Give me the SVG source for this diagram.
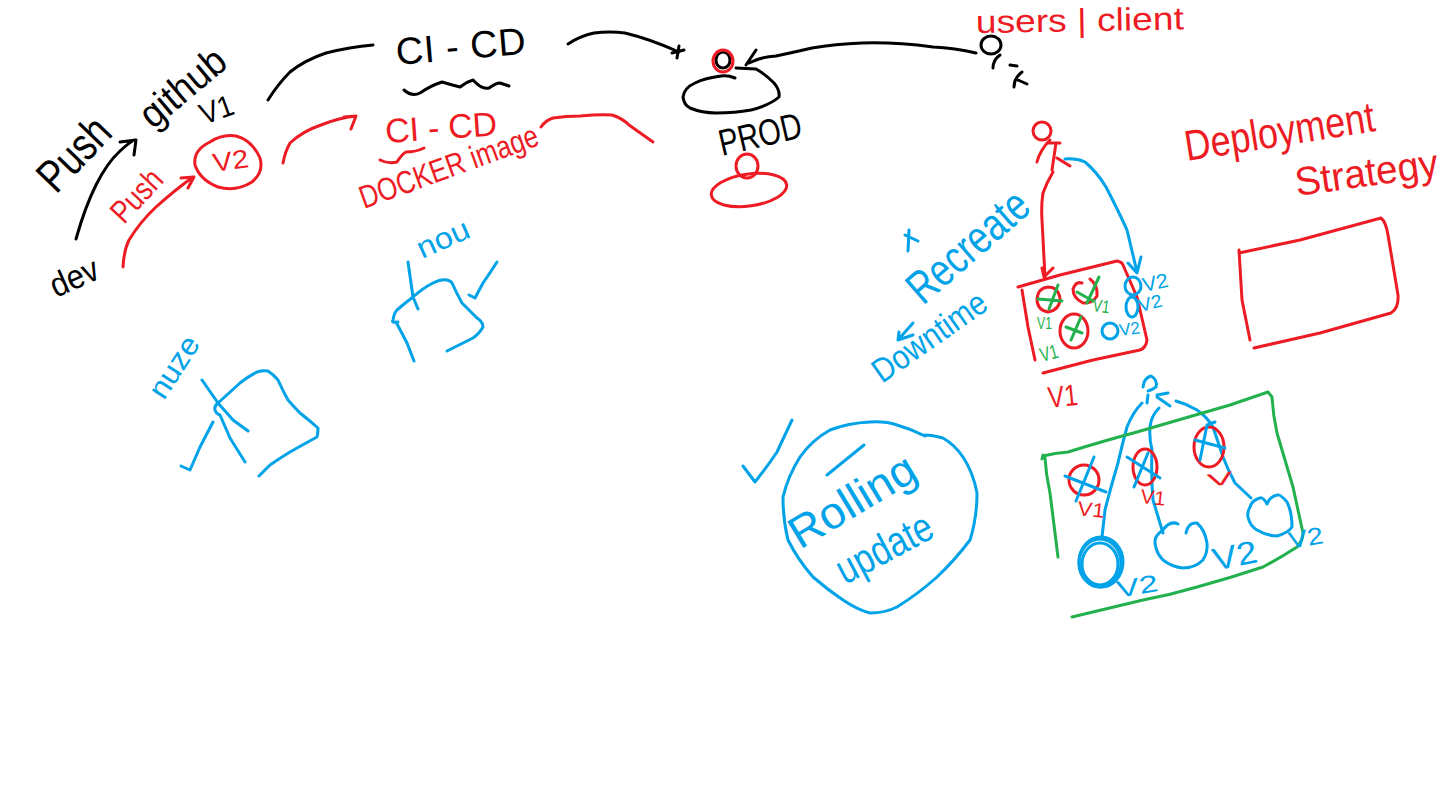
<svg xmlns="http://www.w3.org/2000/svg" width="1454" height="789" viewBox="0 0 1454 789">
<style>
path,ellipse{fill:none;stroke-width:3;stroke-linecap:round;stroke-linejoin:round}
text{font-family:"Liberation Sans",Arial,sans-serif;font-weight:400}
.k{stroke:#000}.r{stroke:#ed1c24}.b{stroke:#00a2e8}.g{stroke:#22b14c}
.tk{fill:#000}.tr{fill:#ed1c24}.tb{fill:#00a2e8}.tg{fill:#22b14c}
</style>
<rect width="1454" height="789" fill="#fff"/>
<g id="connectors">
<path class="k" d="M76 239Q85 207 96 185Q107 163 120 151Q130 142 134 140M120 142L136 140L134 155"/>
<path class="r" d="M123 267Q124 250 129 240Q140 222 156 207Q175 190 193 177M181 178L194 177L188 188"/>
<path class="k" d="M268 100Q278 84 290 72Q305 60 326 53Q350 47 373 45"/>
<path class="k" d="M568 44Q580 36 594 33Q610 31 625 33Q650 39 679 52M672 53L684 50M679 46L677 58"/>
<path class="r" d="M283 163Q285 152 290 143Q303 131 321 125Q338 118 356 116M344 117L356 116L351 129"/>
<path class="r" d="M541 127Q546 120 553 118Q566 116 580 116Q600 114 612 115Q622 118 629 125L653 142"/>
<path class="k" d="M976 53Q955 48 933 47Q895 42 862 43Q835 44 812 48Q795 52 776 56Q760 57 749 63M756 50L746 65"/>
<path class="r" d="M1053 172Q1047 182 1043 193Q1041 206 1042 220L1045 277M1042 268L1044 277L1053 268"/>
<path class="b" d="M1065 159Q1076 158 1085 162Q1097 172 1106 187Q1118 210 1127 230L1137 272M1128 263L1137 273L1141 257"/>
<path class="b" d="M1142 403Q1133 412 1127 427Q1122 445 1118 463Q1110 490 1105 510L1102 537"/>
<path class="b" d="M1159 408Q1151 416 1150 427Q1149 438 1152 450Q1151 478 1153 500L1163 533M1157 395L1168 393M1157 397L1170 406"/>
<path class="b" d="M1176 401Q1187 404 1197 410Q1207 417 1213 427Q1218 442 1223 457Q1228 470 1235 483L1251 498"/>
</g>
<g id="dev"><text class="tk" font-size="34" textLength="50" lengthAdjust="spacingAndGlyphs" transform="translate(56 298) rotate(-24)">dev</text></g>
<g id="push-black"><text class="tk" font-size="46" textLength="84" lengthAdjust="spacingAndGlyphs" transform="translate(56 195) rotate(-46)">Push</text></g>
<g id="github"><text class="tk" font-size="40" textLength="100" lengthAdjust="spacingAndGlyphs" transform="translate(153 130) rotate(-40)">github</text></g>
<g id="v1-top"><text class="tk" font-size="30" textLength="34" lengthAdjust="spacingAndGlyphs" transform="translate(204 125) rotate(-20)">V1</text></g>
<g id="push-red"><text class="tr" font-size="32" textLength="60" lengthAdjust="spacingAndGlyphs" transform="translate(124 225) rotate(-47)">Push</text></g>
<g id="v2-node"><path class="r" d="M210 142Q222 134 236 136Q252 140 260 158Q264 172 252 182Q236 192 218 187Q200 180 195 165Q193 150 210 142"/><text class="tr" font-size="26" textLength="36" lengthAdjust="spacingAndGlyphs" transform="translate(214 172) rotate(-8)">V2</text></g>
<g id="cicd-black"><text class="tk" font-size="38" textLength="130" transform="translate(397 65) rotate(-5)" xml:space="preserve">CI - CD</text><path class="k" d="M404 90Q412 97 420 93Q430 86 442 82Q452 85 460 87Q466 82 473 80Q482 90 489 88Q496 83 500 83L509 86"/></g>
<g id="cicd-red"><text class="tr" font-size="34" textLength="112" transform="translate(386 143) rotate(-4)">CI - CD</text><path class="r" d="M380 160Q388 164 397 162Q402 154 406 152Q416 152 424 148"/></g>
<g id="docker-image"><text class="tr" font-size="32" textLength="188" lengthAdjust="spacingAndGlyphs" transform="translate(364 209) rotate(-20)">DOCKER image</text></g>
<g id="prod-server"><ellipse class="k" cx="723" cy="60" rx="7" ry="8"/><ellipse class="r" cx="723" cy="61" rx="10" ry="11"/><path class="k" d="M735 78Q728 75 721 76Q705 78 695 83Q684 88 683 97Q684 105 690 108Q702 113 716 113Q735 113 751 110Q770 105 779 97Q780 90 774 83Q765 74 756 69L736 68"/></g>
<g id="prod-label"><text class="tk" font-size="37" textLength="84" lengthAdjust="spacingAndGlyphs" transform="translate(722 156) rotate(-13)">PROD</text></g>
<g id="prod-red"><ellipse class="r" cx="747" cy="166" rx="11" ry="12"/><ellipse class="r" cx="749" cy="190" rx="38" ry="16" transform="rotate(-8 749 190)"/></g>
<g id="users-figure"><ellipse class="k" cx="991" cy="45" rx="10" ry="9"/><path class="k" d="M1000 55Q993 60 993 68M1010 65L1017 66M1022 72Q1014 78 1014 87M1018 80L1027 84"/></g>
<g id="users-label"><text class="tr" font-size="32" textLength="208" lengthAdjust="spacingAndGlyphs" transform="translate(976 33) rotate(-1)">users | client</text></g>
<g id="deployment-strategy"><text class="tr" font-size="43" textLength="192" lengthAdjust="spacingAndGlyphs" transform="translate(1187 161) rotate(-9)">Deployment</text><text class="tr" font-size="40" textLength="144" lengthAdjust="spacingAndGlyphs" transform="translate(1297 196) rotate(-8)">Strategy</text></g>
<g id="empty-box"><path class="r" d="M1239 250L1242 300L1250 340M1239 253L1300 240L1381 218Q1386 222 1388 235L1398 295Q1399 308 1391 313L1320 333L1254 348"/></g>
<g id="recreate-figure"><ellipse class="r" cx="1042" cy="131" rx="9" ry="9"/><path class="r" d="M1050 140Q1040 150 1037 162M1047 143L1060 143M1056 143L1052 170M1057 158L1070 166"/></g>
<g id="recreate"><text class="tb" font-size="46" textLength="146" lengthAdjust="spacingAndGlyphs" transform="translate(923 306) rotate(-41)">Recreate</text><path class="b" d="M905 235L918 241M909 230L908 251"/></g>
<g id="downtime"><text class="tb" font-size="34" textLength="132" lengthAdjust="spacingAndGlyphs" transform="translate(882 384) rotate(-35)">Downtime</text><path class="b" d="M913 323L898 340M899 332L898 340L913 335"/></g>
<g id="recreate-box"><path class="r" d="M1035 360L1028 327L1022 290M1018 287L1060 275L1117 261Q1122 262 1123 265L1137 297L1147 340Q1146 348 1140 350L1093 360L1043 373"/></g>
<g id="pod-a"><path class="r" d="M1048 287Q1058 287 1060 298Q1060 310 1048 312Q1037 310 1037 299Q1038 288 1048 287"/><path class="g" d="M1058 285L1049 309M1038 299L1062 301"/><text class="tg" font-size="17" textLength="15" lengthAdjust="spacingAndGlyphs" transform="translate(1037 329)">V1</text></g>
<g id="pod-b"><path class="r" d="M1090 279Q1098 285 1097 296Q1092 304 1083 303Q1073 298 1073 289Q1076 281 1082 283"/><path class="g" d="M1099 277L1087 303M1077 292L1093 301"/><text class="tg" font-size="18" textLength="17" lengthAdjust="spacingAndGlyphs" transform="translate(1092 311) rotate(8)">V1</text></g>
<g id="pod-c"><ellipse class="r" cx="1074" cy="331" rx="14" ry="17"/><path class="g" d="M1081 317L1071 340M1066 327L1082 333"/><text class="tg" font-size="20" textLength="18" lengthAdjust="spacingAndGlyphs" transform="translate(1042 362) rotate(-15)">V1</text></g>
<g id="pod-v2-a"><ellipse class="b" cx="1133" cy="286" rx="8" ry="9"/><text class="tb" font-size="20" textLength="26" lengthAdjust="spacingAndGlyphs" transform="translate(1144 292) rotate(-12)">V2</text></g>
<g id="pod-v2-b"><ellipse class="b" cx="1132" cy="307" rx="6" ry="10"/><text class="tb" font-size="18" textLength="24" lengthAdjust="spacingAndGlyphs" transform="translate(1140 312) rotate(-14)">V2</text></g>
<g id="pod-v2-c"><ellipse class="b" cx="1110" cy="331" rx="8" ry="8"/><text class="tb" font-size="17" textLength="21" lengthAdjust="spacingAndGlyphs" transform="translate(1120 336) rotate(-8)">V2</text></g>
<g id="v1-label"><text class="tr" font-size="30" textLength="30" lengthAdjust="spacingAndGlyphs" transform="translate(1049 408) rotate(-6)">V1</text></g>
<g id="rolling-figure"><path class="b" d="M1143 387Q1144 378 1151 376Q1158 380 1156 387Q1152 390 1148 391M1148 395L1147 403"/></g>
<g id="rolling-box"><path class="g" d="M1043 455L1042 459M1043 456Q1055 453 1068 452Q1100 442 1137 432Q1185 418 1230 405L1268 392L1272 397Q1273 415 1277 433Q1285 460 1293 487L1303 533Q1302 542 1297 547Q1280 558 1263 567Q1230 578 1197 587Q1170 595 1143 600L1072 617M1045 458Q1046 475 1050 493L1058 557"/></g>
<g id="old-1"><ellipse class="r" cx="1084" cy="480" rx="15" ry="15"/><path class="b" d="M1065 476L1106 492M1094 457L1076 501"/><text class="tr" font-size="20" textLength="27" lengthAdjust="spacingAndGlyphs" transform="translate(1077 515) rotate(6)">V1</text></g>
<g id="old-2"><ellipse class="r" cx="1145" cy="467" rx="12" ry="18"/><path class="b" d="M1127 457L1160 478M1148 453L1134 487"/><text class="tr" font-size="20" textLength="25" lengthAdjust="spacingAndGlyphs" transform="translate(1140 503) rotate(6)">V1</text></g>
<g id="old-3"><ellipse class="r" cx="1209" cy="447" rx="15" ry="20"/><path class="b" d="M1195 440L1225 448M1215 422L1207 425L1200 460"/><text class="tr" font-size="18" textLength="26" lengthAdjust="spacingAndGlyphs" transform="translate(1208 487) rotate(-8)">V</text></g>
<g id="new-1"><ellipse class="b" cx="1100" cy="563" rx="21" ry="24" stroke-width="4"/><ellipse class="b" cx="1100" cy="564" rx="18" ry="21" stroke-width="3"/><ellipse class="b" cx="1101" cy="562" rx="22" ry="25" stroke-width="3"/><text class="tb" font-size="24" textLength="42" lengthAdjust="spacingAndGlyphs" transform="translate(1118 598) rotate(-10)">V2</text></g>
<g id="new-2"><path class="b" d="M1178 524Q1170 520 1163 530Q1154 536 1155 543Q1156 553 1163 560Q1172 567 1183 568Q1195 568 1203 560Q1208 552 1207 543Q1205 530 1197 523Q1188 522 1186 533"/><text class="tb" font-size="32" textLength="45" lengthAdjust="spacingAndGlyphs" transform="translate(1215 571) rotate(-12)">V2</text></g>
<g id="new-3"><path class="b" d="M1267 504Q1263 497 1260 498Q1252 500 1250 507Q1247 512 1248 517Q1250 526 1257 530Q1267 536 1277 536Q1288 533 1292 527Q1292 512 1287 502Q1280 494 1278 495Q1270 496 1267 504"/><text class="tb" font-size="24" textLength="35" lengthAdjust="spacingAndGlyphs" transform="translate(1290 549) rotate(-10)">V2</text></g>
<g id="rolling-update"><path class="b" d="M925 436Q911 429 897 425Q885 421 870 422Q848 423 830 430Q812 440 800 457Q788 476 783 497Q783 520 788 540Q798 560 813 577Q828 590 843 600Q858 610 870 613Q885 613 897 607Q918 594 937 577Q955 560 970 540Q977 518 977 493Q973 472 963 457Q955 445 943 438Q932 435 925 435"/><path class="b" d="M827 475L864 445M743 466L755 482Q767 467 777 452L792 420"/><text class="tb" font-size="45" textLength="140" lengthAdjust="spacingAndGlyphs" transform="translate(800 550) rotate(-31)">Rolling</text><text class="tb" font-size="42" textLength="104" lengthAdjust="spacingAndGlyphs" transform="translate(845 585) rotate(-28)">update</text></g>
<g id="nou"><text class="tb" font-size="30" textLength="55" lengthAdjust="spacingAndGlyphs" transform="translate(422 259) rotate(-24)">nou</text><path class="b" d="M408 262L413 297L418 309M398 322Q391 323 393 320Q394 313 397 310Q405 303 413 297Q423 288 433 283Q441 279 447 280Q451 281 452 283Q457 294 462 303Q470 311 477 318Q483 322 483 327Q479 334 473 338L447 351M396 322L407 343L414 361M497 262Q490 273 483 283L475 298L469 295"/></g>
<g id="nuze"><text class="tb" font-size="30" textLength="68" lengthAdjust="spacingAndGlyphs" transform="translate(164 401) rotate(-57)">nuze</text><path class="b" d="M202 380L218 403Q226 412 233 420L248 431M218 403Q229 393 240 383Q249 376 257 372Q263 370 268 371Q274 375 278 380Q283 391 288 400Q294 407 300 413Q309 420 318 428Q318 433 317 437Q304 444 290 452Q280 458 270 465L259 476M218 403Q214 406 215 410Q216 414 220 415L230 438L245 462M213 422L200 447L190 470L181 466"/></g>
</svg>
